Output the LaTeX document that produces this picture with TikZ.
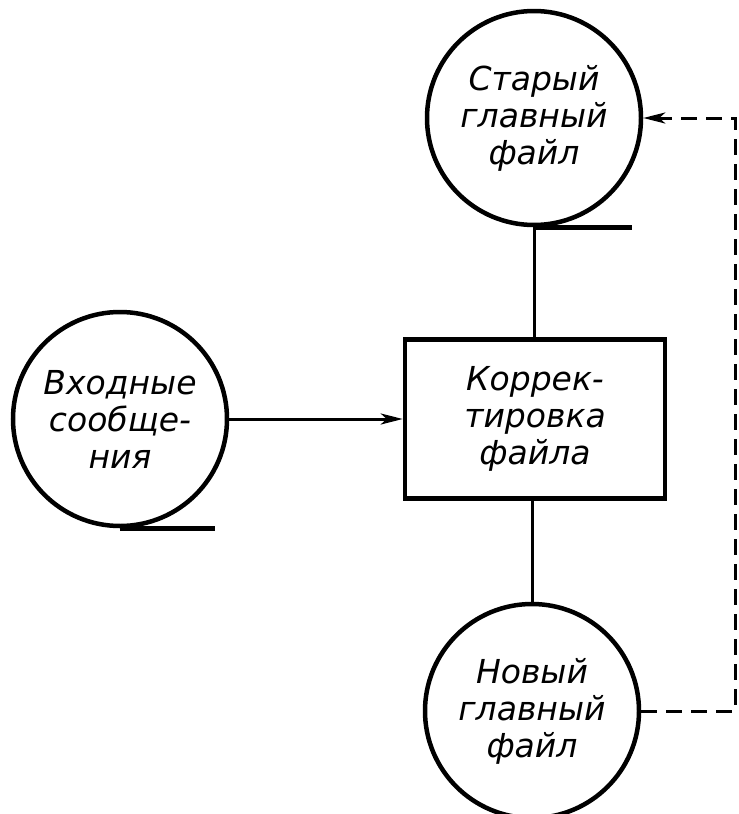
\documentclass[tikz,border=0pt]{standalone}
\usepackage{fontspec}
\setmainfont{DejaVu Sans}
\usetikzlibrary{arrows.meta}
\begin{document}
\begin{tikzpicture}[x=1pt,y=-1pt,
  tape/.style={circle,draw,line width=4.5pt,minimum size=214pt,inner sep=0pt,align=center,
    font=\fontsize{33}{37}\selectfont\itshape},
  procbox/.style={rectangle,draw,line width=4.5pt,minimum width=260pt,minimum height=159pt,align=center,
    font=\fontsize{33}{37}\selectfont\itshape},
  conn/.style={line width=3pt},
  arr/.style={line width=3pt,-{Stealth[length=22pt,width=11pt,inset=6pt]}},
  dashconn/.style={line width=3pt,dash pattern=on 16pt off 9pt,-{Stealth[length=22pt,width=11pt,inset=6pt]}}]
\useasboundingbox (0,0) rectangle (739,814);
\clip (0,0) rectangle (739,814);
\node[tape] (old) at (534,118) {Старый\\главный\\файл};
\node[tape] (inp) at (120,419) {Входные\\сообще-\\ния};
\node[procbox] (box) at (535,419) {Коррек-\\тировка\\файла};
\node[tape] (new) at (532,711) {Новый\\главный\\файл};
\draw[line width=4.5pt] (old.south) -- ++(98,0);
\draw[line width=4.5pt] (inp.south) -- ++(95,0);
\draw[line width=4.5pt] (new.south) -- ++(90,0);
\draw[conn] (old.south) -- (old.south |- box.north);
\draw[conn] (box.south -| new.north) -- (new.north);
\draw[arr] (inp.east) -- (box.west);
\coordinate (corner) at (735,711);
\draw[dashconn] (new.east) -- (corner) |- (old.east);
\end{tikzpicture}
\end{document}
